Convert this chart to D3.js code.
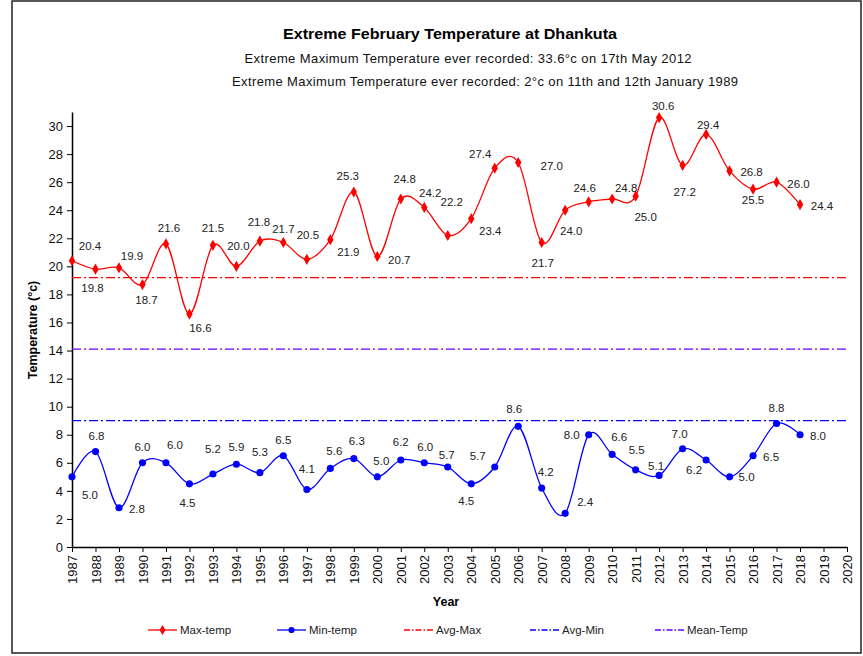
<!DOCTYPE html>
<head>
  <meta charset="UTF-8">
  <style>
    *{ margin: 0px; }
    body{ background-color: white; }
    svg{ position: absolute; font-family: "Liberation Sans", Arial, sans-serif; }
  </style>
  <script src="https://d3js.org/d3.v7.min.js"></script>
</head>
<body>
  <svg id="chart" width="863" height="656"></svg>
  <script>
    // values
    var years = d3.range(1987, 2019);
    var maxTemp = [20.4, 19.8, 19.9, 18.7, 21.6, 16.6, 21.5, 20.0, 21.8, 21.7, 20.5, 21.9, 25.3, 20.7, 24.8, 24.2,
      22.2, 23.4, 27.0, 27.4, 21.7, 24.0, 24.6, 24.8, 25.0, 30.6, 27.2, 29.4, 26.8, 25.5, 26.0, 24.4];
    var minTemp = [5.0, 6.8, 2.8, 6.0, 6.0, 4.5, 5.2, 5.9, 5.3, 6.5, 4.1, 5.6, 6.3, 5.0, 6.2, 6.0,
      5.7, 4.5, 5.7, 8.6, 4.2, 2.4, 8.0, 6.6, 5.5, 5.1, 7.0, 6.2, 5.0, 6.5, 8.8, 8.0];
    var avgMax = 19.2, avgMin = 9.0, meanTemp = 14.1;
    var yTicks = d3.range(0, 31, 2);
    var xTicks = d3.range(1987, 2021);

    // hand-placed data label offsets (px from the point), as in the original
    var maxLabelOffsets = [[18,-15],[-3,19],[13,-12],[4,15],[3,-16],[11,14],[0,-17],[2,-20],[-1,-19],[0,-14],
      [1,-24],[18,12],[-6,-16],[22,3],[4,-20],[6,-14],[4,-33],[19,12],[57,-2],[-38,-9],[1,20],[6,21],
      [-4,-14],[14,-11],[10,21],[4,-12],[2,27],[2,-9],[22,1],[0,11],[22,2],[22,1]];
    var minLabelOffsets = [[18,18],[1,-16],[18,1],[0,-16],[9,-18],[-2,19],[0,-25],[0,-17],[0,-21],[0,-16],
      [0,-20],[4,-17],[3,-18],[4,-16],[0,-18],[1,-16],[-1,-12],[-5,17],[-17,-11],[-4,-17],[4,-16],[20,-11],
      [-17,0],[7,-17],[1,-20],[-3,-9],[-3,-15],[-12,10],[17,0],[18,1],[0,-16],[18,1]];

    var svg = d3.select("#chart");

    // outer chart border
    svg.append("rect")
      .attr("x", 12).attr("y", 1).attr("width", 849).attr("height", 652)
      .attr("fill", "none").attr("stroke", "#222").attr("stroke-width", 1.5);

    var x = d3.scaleLinear().domain([1987, 2020]).range([72, 847]);
    var y = d3.scaleLinear().domain([0, 31]).range([547, 112]);

    // titles
    svg.append("text").attr("x", 450).attr("y", 39).attr("text-anchor", "middle")
      .attr("font-size", "14.5px").attr("font-weight", "bold")
      .attr("textLength", 334).attr("lengthAdjust", "spacingAndGlyphs")
      .text("Extreme February Temperature at Dhankuta");
    svg.append("text").attr("x", 468).attr("y", 63).attr("text-anchor", "middle")
      .attr("font-size", "13px").attr("fill", "#111")
      .attr("textLength", 447).attr("lengthAdjust", "spacing")
      .text("Extreme Maximum Temperature ever recorded: 33.6°c on 17th May 2012");
    svg.append("text").attr("x", 485).attr("y", 86).attr("text-anchor", "middle")
      .attr("font-size", "13px").attr("fill", "#111")
      .attr("textLength", 506).attr("lengthAdjust", "spacing")
      .text("Extreme Maximum Temperature ever recorded: 2°c on 11th and 12th January 1989");

    // axes
    var yAxis = svg.append("g").attr("transform", "translate(72,0)")
      .call(d3.axisLeft(y).tickValues(yTicks).tickSize(5).tickPadding(4).tickSizeOuter(0));
    yAxis.selectAll("text").attr("font-size", "13px").attr("fill", "#111")
      .attr("font-family", "Liberation Sans, Arial, sans-serif");

    var xAxis = svg.append("g").attr("transform", "translate(0,547)")
      .call(d3.axisBottom(x).tickValues(xTicks).tickFormat(d3.format("d")).tickSize(5).tickSizeOuter(0));
    xAxis.selectAll("text")
      .attr("font-size", "13px").attr("fill", "#111")
      .attr("font-family", "Liberation Sans, Arial, sans-serif")
      .attr("transform", "rotate(-90)")
      .attr("text-anchor", "end")
      .attr("x", -8).attr("y", 0).attr("dy", "0.35em");
    svg.selectAll(".domain").attr("stroke", "#000").attr("stroke-width", 1.5);
    svg.selectAll(".tick line").attr("stroke", "#000");

    svg.append("text").attr("x", 446).attr("y", 606).attr("text-anchor", "middle")
      .attr("font-size", "12.5px").attr("font-weight", "bold").text("Year");
    svg.append("text").attr("transform", "translate(37,330) rotate(-90)").attr("text-anchor", "middle")
      .attr("font-size", "12.5px").attr("font-weight", "bold").text("Temperature (°c)");

    // reference lines
    var refLines = [
      {v: avgMax, c: "#ff0000"},
      {v: meanTemp, c: "#6600ff"},
      {v: avgMin, c: "#0000ff"}
    ];
    svg.selectAll(".ref").data(refLines).enter().append("line")
      .attr("x1", x(1987)).attr("x2", x(2020))
      .attr("y1", d => y(d.v)).attr("y2", d => y(d.v))
      .attr("stroke", d => d.c).attr("stroke-width", 1.3)
      .attr("stroke-dasharray", "9,3,2,3");

    var line = d3.line().curve(d3.curveCardinal.tension(0))
      .x((d, i) => x(years[i])).y(d => y(d));

    function series(vals, color, marker, offsets){
      svg.append("path").datum(vals).attr("d", line)
        .attr("fill", "none").attr("stroke", color).attr("stroke-width", 1.3);
      svg.append("g").selectAll("path").data(vals).enter().append("path")
        .attr("d", d3.symbol().type(marker).size(marker === d3.symbolCircle ? 40 : 36))
        .attr("transform", (d, i) => "translate(" + x(years[i]) + "," + y(d) + ")")
        .attr("fill", color);
      svg.append("g").selectAll("text").data(vals).enter().append("text")
        .attr("x", (d, i) => x(years[i]) + offsets[i][0])
        .attr("y", (d, i) => y(d) + offsets[i][1])
        .attr("text-anchor", "middle").attr("dominant-baseline", "central")
        .attr("font-size", "11.5px").attr("fill", "#222")
        .text(d => d.toFixed(1));
    }
    series(maxTemp, "#ff0000", d3.symbolDiamond, maxLabelOffsets);
    series(minTemp, "#0000ff", d3.symbolCircle, minLabelOffsets);

    // legend
    var legend = [
      {name: "Max-temp", c: "#ff0000", x: 148, marker: d3.symbolDiamond, dash: null},
      {name: "Min-temp", c: "#0000ff", x: 277, marker: d3.symbolCircle, dash: null},
      {name: "Avg-Max", c: "#ff0000", x: 404, marker: null, dash: "6,2,1.5,2"},
      {name: "Avg-Min", c: "#0000ff", x: 530, marker: null, dash: "6,2,1.5,2"},
      {name: "Mean-Temp", c: "#6600ff", x: 655, marker: null, dash: "6,2,1.5,2"}
    ];
    var lg = svg.append("g").selectAll("g").data(legend).enter().append("g")
      .attr("transform", d => "translate(" + d.x + ",630)");
    lg.append("line").attr("x1", 0).attr("x2", 29).attr("stroke", d => d.c)
      .attr("stroke-width", 1.3).attr("stroke-dasharray", d => d.dash);
    lg.filter(d => d.marker).append("path")
      .attr("d", d => d3.symbol().type(d.marker).size(30)())
      .attr("transform", "translate(14.5,0)").attr("fill", d => d.c);
    lg.append("text").attr("x", 32).attr("dominant-baseline", "central")
      .attr("font-size", "11.5px").attr("fill", "#222").text(d => d.name);
  </script>
</body>
